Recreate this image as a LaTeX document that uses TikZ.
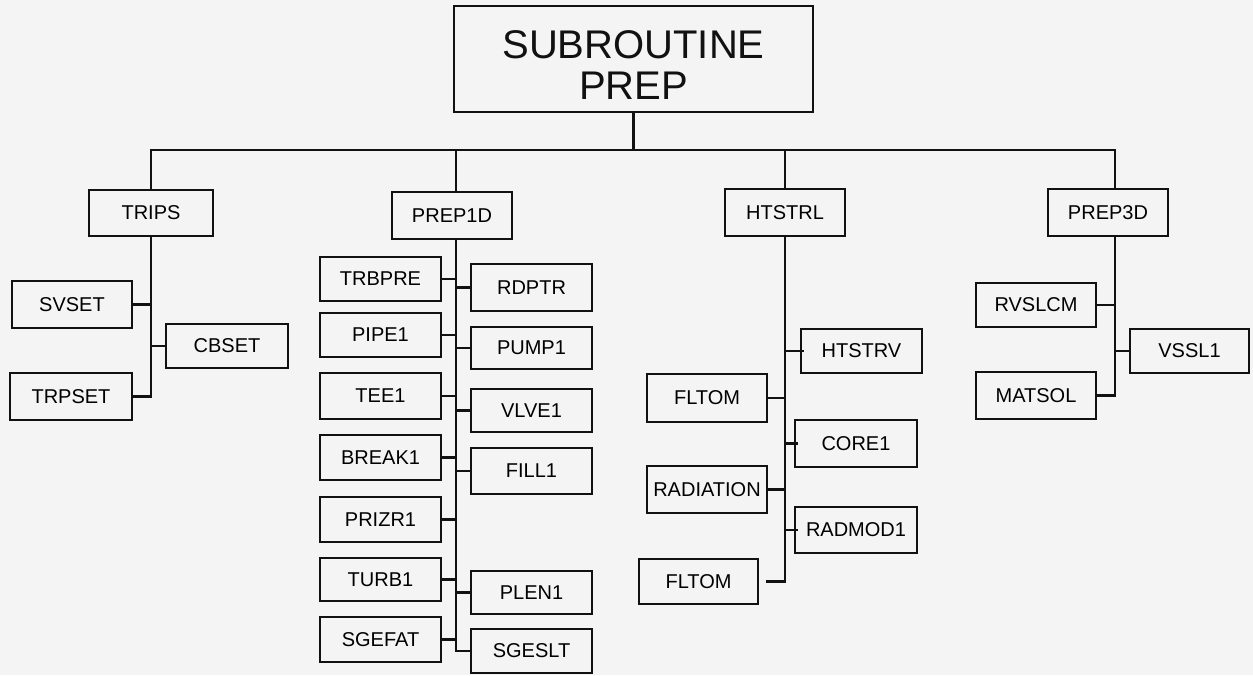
\documentclass[tikz,border=0pt]{standalone}
\usepackage{fontspec}
\setmainfont{Liberation Sans}
\usetikzlibrary{calc}
\definecolor{paper}{RGB}{244,244,244}
\definecolor{ink}{RGB}{17,17,17}
\begin{document}
\begin{tikzpicture}[x=1pt,y=-1pt,
  box/.style={draw=ink, line width=2.2pt, inner sep=0pt, fill=paper,
    font=\fontsize{20}{22}\selectfont},
  wire/.style={draw=ink, line width=2.2pt}]
\fill[paper] (0,0) rectangle (1253,675);
\useasboundingbox (0,0) rectangle (1253,675);

% root
\node[box, minimum width=359pt, minimum height=106pt,
  label={[yshift=-6pt, align=center, text=ink,
    font=\fontsize{40}{41}\selectfont]center:SUBROUTINE\\PREP}] (prep) at (633.5,59) {};

% first level
\node[box, minimum width=124pt, minimum height=46pt] (trips)  at (151,213)    {TRIPS};
\node[box, minimum width=120pt, minimum height=47pt] (prepa)  at (452,215.5)  {PREP1D};
\node[box, minimum width=120pt, minimum height=47pt] (htstrl) at (785,212.5)  {HTSTRL};
\node[box, minimum width=120pt, minimum height=47pt] (prepc)  at (1108,212.5) {PREP3D};

% bus from the root to the four branches
\coordinate (bus) at ($(prep.south)+(0,37)$);
\draw[wire] (prep.south) -- (bus);
\draw[wire] (trips.north) -- (trips.north |- bus) -- ([xshift=7pt]prepc.north |- bus) -- ([xshift=7pt]prepc.north);
\draw[wire] ([xshift=4pt]prepa.north) -- ([xshift=4pt]prepa.north |- bus);
\draw[wire] (htstrl.north) -- (htstrl.north |- bus);

% TRIPS branch
\node[box, minimum width=120pt, minimum height=47pt] (svset)  at (72,304.5) {SVSET};
\node[box, minimum width=122pt, minimum height=44pt] (cbset)  at (227,346)  {CBSET};
\node[box, minimum width=122pt, minimum height=47pt] (trpset) at (71,396.5) {TRPSET};
\draw[wire] (trips.south) -- (trips.south |- trpset.east) -- (trpset.east);
\draw[wire] (svset.east) -- (svset.east -| trips.south);
\draw[wire] (cbset.west) -- (cbset.west -| trips.south);

% PREP1D branch
\coordinate (pa) at ([xshift=4pt]prepa.south);
\node[box, minimum width=121pt, minimum height=44pt] (trbpre) at (380.5,279)   {TRBPRE};
\node[box, minimum width=121pt, minimum height=47pt] (rdptr)  at (531.5,287.5) {RDPTR};
\node[box, minimum width=121pt, minimum height=44pt] (pipe)   at (380.5,335)   {PIPE1};
\node[box, minimum width=121pt, minimum height=42pt] (pump)   at (531.5,348)   {PUMP1};
\node[box, minimum width=121pt, minimum height=46pt] (tee)    at (380.5,396)   {TEE1};
\node[box, minimum width=121pt, minimum height=43pt] (vlve)   at (531.5,410.5) {VLVE1};
\node[box, minimum width=121pt, minimum height=45pt] (break)  at (380.5,457.5) {BREAK1};
\node[box, minimum width=121pt, minimum height=46pt] (fill)   at (531.5,471)   {FILL1};
\node[box, minimum width=121pt, minimum height=45pt] (prizr)  at (380.5,519.5) {PRIZR1};
\node[box, minimum width=121pt, minimum height=43pt] (turb)   at (380.5,579.5) {TURB1};
\node[box, minimum width=121pt, minimum height=43pt] (plen)   at (531.5,592.5) {PLEN1};
\node[box, minimum width=121pt, minimum height=45pt] (sgefat) at (380.5,639.5) {SGEFAT};
\node[box, minimum width=121pt, minimum height=44pt] (sgeslt) at (531.5,651)   {SGESLT};
\draw[wire] (pa) -- (pa |- sgeslt.west) -- (sgeslt.west);
\foreach \n in {trbpre,pipe,tee,break,prizr,turb,sgefat}
  \draw[wire] (\n.east) -- (\n.east -| pa);
\foreach \n in {rdptr,pump,vlve,fill,plen}
  \draw[wire] (\n.west) -- (\n.west -| pa);

% HTSTRL branch
\node[box, minimum width=121pt, minimum height=44pt] (htstrv) at (861.5,351)   {HTSTRV};
\node[box, minimum width=120pt, minimum height=48pt] (fltoma) at (707,398)     {FLTOM};
\node[box, minimum width=122pt, minimum height=47pt] (core)   at (856,443.5)   {CORE1};
\node[box, minimum width=120pt, minimum height=47pt] (rad)    at (707,489.5)   {RADIATION};
\node[box, minimum width=122pt, minimum height=46pt] (radmod) at (856,530)     {RADMOD1};
\node[box, minimum width=119pt, minimum height=45pt] (fltomb) at (698.5,581.5) {FLTOM};
\draw[wire] (htstrl.south) -- (htstrl.south |- fltomb.east) -- ([xshift=7pt]fltomb.east);
\foreach \n in {fltoma,rad}
  \draw[wire] (\n.east) -- (\n.east -| htstrl.south);
\foreach \n in {htstrv,core,radmod}
  \draw[wire] ([xshift=4pt]\n.west) -- (\n.west -| htstrl.south);

% PREP3D branch
\coordinate (pc) at ([xshift=7pt]prepc.south);
\node[box, minimum width=120pt, minimum height=44pt] (rvslcm) at (1036,305)    {RVSLCM};
\node[box, minimum width=119pt, minimum height=44pt] (vssl)   at (1189.5,351)  {VSSL1};
\node[box, minimum width=120pt, minimum height=47pt] (matsol) at (1036,395.5)  {MATSOL};
\draw[wire] (pc) -- (pc |- matsol.east) -- (matsol.east);
\draw[wire] (rvslcm.east) -- (rvslcm.east -| pc);
\draw[wire] (vssl.west) -- (vssl.west -| pc);
\end{tikzpicture}
\end{document}
